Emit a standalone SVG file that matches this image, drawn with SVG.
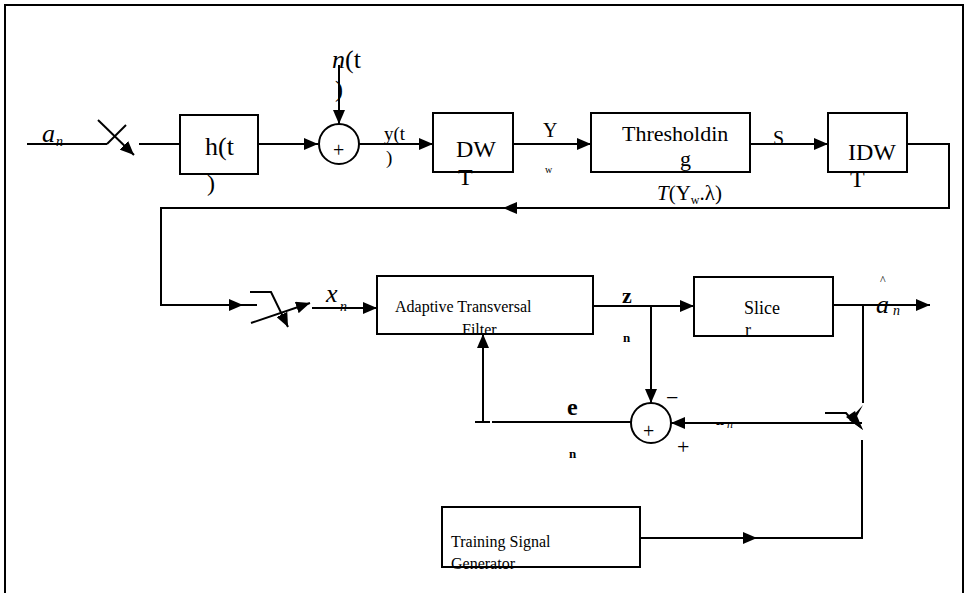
<svg xmlns="http://www.w3.org/2000/svg" width="964" height="593" viewBox="0 0 964 593">
<defs>
<marker id="ahl" viewBox="0 0 14 12" refX="14" refY="6" markerWidth="14" markerHeight="12" markerUnits="userSpaceOnUse" orient="auto"><path d="M0,0 L14,6 L0,12 z" fill="#000"/></marker>
</defs>
<style>
.ln{stroke:#000;stroke-width:2;fill:none}
.bx{stroke:#000;stroke-width:2;fill:#fff}
.t{font-family:"Liberation Serif","Times New Roman",serif;fill:#000}
.i{font-style:italic}
.b{font-weight:bold}
</style>
<rect width="964" height="593" fill="#fff"/>
<g id="frame"><path class="ln" d="M5,593 V5 H963 V593"/></g>
<g id="connectors">
<path class="ln" d="M27,144 H107"/>
<path class="ln" d="M98,120 L134,155" marker-end="url(#ahl)"/>
<path class="ln" d="M126,125 L107,144"/>
<path class="ln" d="M139,144 H180"/>
<path class="ln" d="M258,144 H318" marker-end="url(#ahl)"/>
<path class="ln" d="M339,65 V124" marker-end="url(#ahl)"/>
<path class="ln" d="M359,144 H433" marker-end="url(#ahl)"/>
<path class="ln" d="M513,144 H591" marker-end="url(#ahl)"/>
<path class="ln" d="M750,144 H828" marker-end="url(#ahl)"/>
<path class="ln" d="M907,144 H949 V208 H945"/>
<path class="ln" d="M945,208 H503" marker-end="url(#ahl)"/>
<path class="ln" d="M503,208 H161 V305 H243" marker-end="url(#ahl)"/>
<path class="ln" d="M243,305 H257"/>
<path class="ln" d="M250,292 H271 L288,327" marker-end="url(#ahl)"/>
<path class="ln" d="M251,323 L310,303" marker-end="url(#ahl)"/>
<path class="ln" d="M312,308 H377" marker-end="url(#ahl)"/>
<path class="ln" d="M593,306 H694" marker-end="url(#ahl)"/>
<path class="ln" d="M651,306 V403" marker-end="url(#ahl)"/>
<path class="ln" d="M833,305 H930" marker-end="url(#ahl)"/>
<path class="ln" d="M863,305 V403"/>
<path class="ln" d="M862,423 H671" marker-end="url(#ahl)"/>
<path class="ln" d="M825,413 H846 L853,421"/>
<path d="M863,405 L849,420 L863,430 L856,418 z" fill="#000"/>
<path d="M846,417 L863,430 L855,411 z" fill="#000"/>
<path class="ln" d="M632,422 H492"/>
<path class="ln" d="M475,422 H490" stroke-width="1"/>
<path class="ln" d="M483,422 V334" marker-end="url(#ahl)"/>
<path class="ln" d="M640,538 H757" marker-end="url(#ahl)"/>
<path class="ln" d="M757,538 H862 V440"/>
</g>
<g id="sampler1"><text class="t i" x="42" y="142" font-size="26">a</text><text class="t i" x="56" y="146" font-size="14">n</text></g>
<g id="h"><rect class="bx" x="180" y="115" width="78" height="59"/><text class="t" x="205" y="155" font-size="26">h(t</text><text class="t" x="207" y="191" font-size="24">)</text></g>
<g id="sum1"><circle class="bx" cx="339" cy="144" r="20"/><text class="t" x="333" y="157" font-size="20">+</text><text class="t" x="332" y="68" font-size="26"><tspan class="i">n</tspan>(t</text><text class="t" x="335" y="97" font-size="24">)</text><text class="t" x="384" y="140" font-size="19">y(t</text><text class="t" x="386" y="164" font-size="19">)</text></g>
<g id="dwt"><rect class="bx" x="433" y="113" width="80" height="59"/><text class="t" x="456" y="157" font-size="24">DW</text><text class="t" x="458" y="185" font-size="24">T</text></g>
<g id="yw"><text class="t" x="543" y="137" font-size="20">Y</text><text class="t" x="545" y="173" font-size="10">w</text></g>
<g id="thr"><rect class="bx" x="591" y="113" width="159" height="59"/><text class="t" x="622" y="141" font-size="22">Thresholdin</text><text class="t" x="680" y="166" font-size="22">g</text><text class="t" x="657" y="200" font-size="21"><tspan class="i">T</tspan>(Y<tspan font-size="12" dy="4">w</tspan><tspan dy="-4">.λ)</tspan></text></g>
<g id="s"><text class="t" x="773" y="145" font-size="20">S</text></g>
<g id="idwt"><rect class="bx" x="828" y="113" width="79" height="59"/><text class="t" x="848" y="160" font-size="24">IDW</text><text class="t" x="850" y="187" font-size="24">T</text></g>
<g id="sampler2"><text class="t i" x="326" y="302" font-size="26">x</text><text class="t i" x="340" y="311" font-size="14">n</text></g>
<g id="atf"><rect class="bx" x="377" y="276" width="216" height="58"/><text class="t" x="395" y="312" font-size="16">Adaptive Transversal</text><text class="t" x="462" y="335" font-size="16">Filter</text></g>
<g id="zn"><text class="t b" x="622" y="303" font-size="22">z</text><text class="t b" x="623" y="342" font-size="13">n</text></g>
<g id="slicer"><rect class="bx" x="694" y="277" width="139" height="59"/><text class="t" x="744" y="314" font-size="18">Slice</text><text class="t" x="745" y="336" font-size="18">r</text></g>
<g id="ahat"><text class="t i" x="876" y="313" font-size="26">a</text><text class="t i" x="893" y="315" font-size="14">n</text><text class="t" x="880" y="284" font-size="12">^</text></g>
<g id="sum2"><circle class="bx" cx="651" cy="423" r="20"/><text class="t" x="643" y="438" font-size="20">+</text><text class="t" x="666" y="405" font-size="22">−</text><text class="t" x="677" y="454" font-size="22">+</text><text class="t" x="716" y="428" font-size="12">-- <tspan class="i">n</tspan></text></g>
<g id="en"><text class="t b" x="567" y="415" font-size="24">e</text><text class="t b" x="569" y="458" font-size="13">n</text></g>
<g id="tsg"><rect class="bx" x="442" y="507" width="198" height="60"/><text class="t" x="451" y="547" font-size="16">Training Signal</text><text class="t" x="451" y="569" font-size="16">Generator</text></g>
</svg>
